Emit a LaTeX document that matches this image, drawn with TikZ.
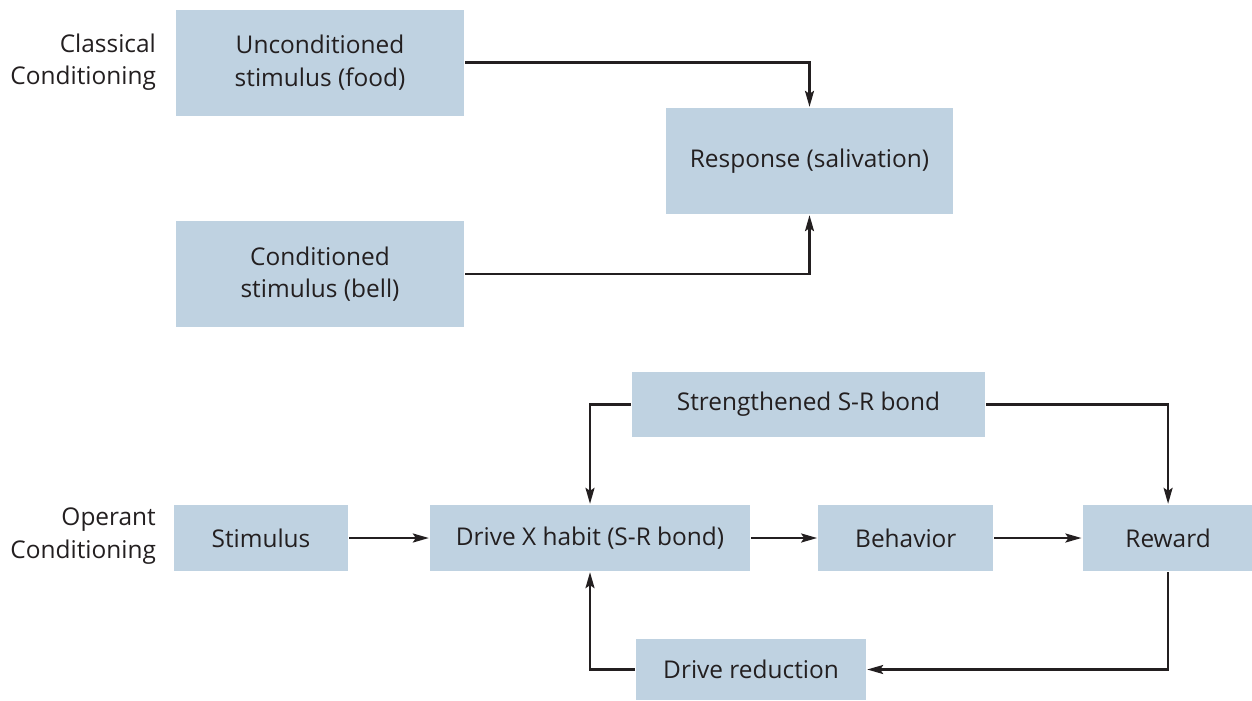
\documentclass[tikz,border=0pt]{standalone}
\usepackage{fontspec}
\setmainfont{Open Sans}
\usepackage{xcolor}
\usepackage{tikz}
\usetikzlibrary{arrows.meta, calc, positioning}
\definecolor{boxblue}{RGB}{191,210,225}
\definecolor{ink}{RGB}{35,31,32}

\begin{document}
\begin{tikzpicture}[->,>={Stealth[length=3.2mm,width=1.8mm,inset=0.6mm]},line width=1.3pt,draw=ink,text=ink,font=\fontsize{13.9}{18.4}\selectfont]
			\tikzstyle{box}=[fill=boxblue,draw=none,inner sep=0pt,align=center,minimum height=1.32cm]
			\tikzstyle{tallbox}=[box,minimum width=5.76cm,minimum height=2.12cm]
			\tikzstyle{side}=[align=right,anchor=east,inner sep=0pt]
			\useasboundingbox (0,0) rectangle (25.04,-14);
			
			% classical conditioning
			\node[side] (cl) at (3.14,-1.24) {Classical\\Conditioning};
			\node[tallbox] (uncond) at (6.40,-1.25) {Unconditioned\\stimulus (food)};
			\node[tallbox] (cond) at (6.40,-5.48) {Conditioned\\stimulus (bell)};
			\node[tallbox,minimum width=5.74cm] (resp) at (16.19,-3.22) {Response (salivation)};
			
			\draw (uncond.east) -| (resp.north);
			\draw (cond.east) -| (resp.south);
			
			% operant conditioning
			\node[side] (op) at (3.14,-10.72) {Operant\\Conditioning};
			\node[box,minimum width=3.48cm] (stim) at (5.22,-10.76) {Stimulus};
			\node[box,minimum width=6.40cm] (drive) at (11.80,-10.76) {Drive X habit (S-R bond)};
			\node[box,minimum width=3.50cm] (behav) [right=1.32cm of drive] {Behavior};
			\node[box,minimum width=3.42cm] (reward) [right=1.74cm of behav] {Reward};
			\node[box,minimum width=7.06cm,minimum height=1.30cm] (streng) at (16.17,-8.09) {Strengthened S-R bond};
			\node[box,minimum width=4.60cm,minimum height=1.22cm] (dred) at (15.02,-13.39) {Drive reduction};
			
			\draw (stim) -- (drive);
			\draw (drive) -- (behav);
			\draw (behav) -- (reward);
			\draw (streng.west) -| (drive.north);
			\draw (streng.east) -| (reward.north);
			\draw (reward.south) |- (dred.east);
			\draw (dred.west) -| (drive.south);
		\end{tikzpicture}
\end{document}
